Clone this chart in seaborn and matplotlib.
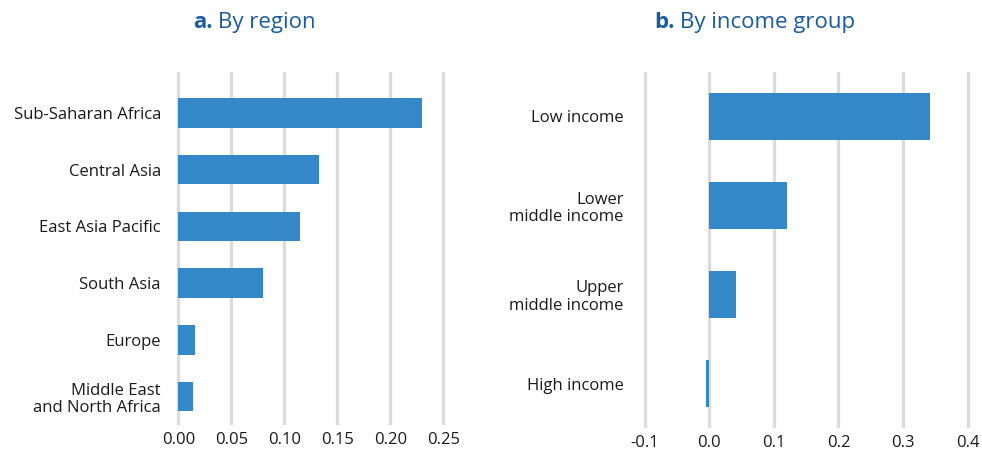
import matplotlib
matplotlib.use("Agg")
import matplotlib.pyplot as plt
import seaborn as sns
import pandas as pd

# ---- data ----
regions = ["Sub-Saharan Africa", "Central Asia", "East Asia Pacific", "South Asia",
           "Europe", "Middle East\nand North Africa"]
region_values = [0.230, 0.133, 0.115, 0.080, 0.016, 0.014]

income_groups = ["Low income", "Lower\nmiddle income", "Upper\nmiddle income", "High income"]
income_values = [0.342, 0.121, 0.041, -0.005]

region_ticks = [0.00, 0.05, 0.10, 0.15, 0.20, 0.25]
region_ticklabels = ["0.00", "0.05", "0.10", "0.15", "0.20", "0.25"]
income_ticks = [-0.1, 0.0, 0.1, 0.2, 0.3, 0.4]
income_ticklabels = ["-0.1", "0.0", "0.1", "0.2", "0.3", "0.4"]

BAR = "#3488c8"
TITLE = "#1a5a9e"
GRID = "#dcdcdc"
TXT = "#1a1a1a"

sns.set_theme(style="white")
plt.rcParams["font.family"] = ["Open Sans", "DejaVu Sans"]

W, H = 982, 453
fig = plt.figure(figsize=(W / 100, H / 100), dpi=100)

def rect(x0, x1, ytop, ybot):
    return [x0 / W, 1 - ybot / H, (x1 - x0) / W, (ybot - ytop) / H]

ax1 = fig.add_axes(rect(176.2, 445.4, 72, 425))
ax2 = fig.add_axes(rect(641.5, 970.9, 72, 428))

df1 = pd.DataFrame({"cat": regions, "val": region_values})
df2 = pd.DataFrame({"cat": income_groups, "val": income_values})

sns.barplot(data=df1, y="cat", x="val", orient="h", color=BAR, width=0.52,
            linewidth=0, saturation=1, ax=ax1)
sns.barplot(data=df2, y="cat", x="val", orient="h", color=BAR, width=0.53,
            linewidth=0, saturation=1, ax=ax2)

ax1.set_xlim(-0.002, 0.252)
ax1.set_ylim(5.5, -0.72)
ax2.set_xlim(-0.105, 0.405)
ax2.set_ylim(3.5, -0.5)

for ax, ticks, labels, pad in [(ax1, region_ticks, region_ticklabels, 11),
                               (ax2, income_ticks, income_ticklabels, 13)]:
    ax.set_xticks(ticks)
    ax.set_xticklabels(labels)
    ax.set_xlabel("")
    ax.set_ylabel("")
    for s in ax.spines.values():
        s.set_visible(False)
    ax.grid(False)
    for t in ticks:
        ax.axvline(t, color=GRID, lw=2.4, zorder=0)
    ax.tick_params(axis="x", length=0, pad=5, labelsize=12, labelcolor=TXT)
    ax.tick_params(axis="y", length=0, pad=pad, labelsize=12, labelcolor=TXT)
    for lab in ax.get_yticklabels():
        lab.set_multialignment("right")
        lab.set_linespacing(1.1)
    ax.set_facecolor("none")

# titles: bold letter followed by regular text
yb = 1 - 28 / H
renderer = fig.canvas.get_renderer()
for x0, letter, rest in [(193, "a.", "By region"), (654, "b.", "By income group")]:
    t = fig.text(x0 / W, yb, letter, fontsize=16, fontweight="bold", color=TITLE,
                 va="baseline", ha="left")
    bb = t.get_window_extent(renderer=renderer)
    fig.text((bb.x1 + 6) / W, yb, rest, fontsize=16, color=TITLE,
             va="baseline", ha="left")

fig.savefig("out.png", dpi=100)
